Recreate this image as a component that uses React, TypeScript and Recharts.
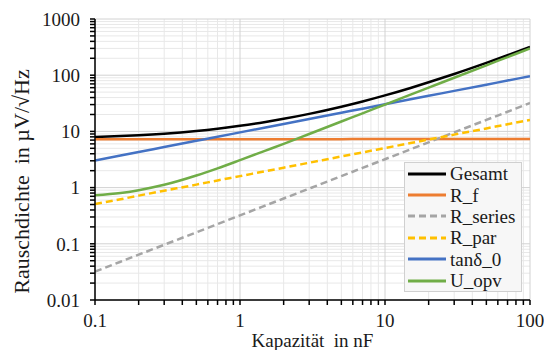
import React from 'react';
import { LineChart, Line, XAxis, YAxis, CartesianGrid, Legend } from 'recharts';

// Capacitance in nF
const capacitance = [0.1, 0.15, 0.2, 0.3, 0.5, 0.7, 1, 1.5, 2, 3, 5, 7, 10, 15, 20, 30, 50, 70, 100];

// Noise density in µV/√Hz
const gesamt = [7.96, 8.26, 8.55, 9.11, 10.17, 11.16, 12.55, 14.71, 16.72, 20.49, 27.48, 34.1, 43.7, 59.3, 74.8, 105.3, 166, 226.5, 317];
const rF = [7.25, 7.25, 7.25, 7.25, 7.25, 7.25, 7.25, 7.27, 7.27, 7.28, 7.28, 7.3, 7.3, 7.3, 7.32, 7.32, 7.33, 7.33, 7.35];
const rSeries = [0.032, 0.048, 0.064, 0.096, 0.16, 0.224, 0.32, 0.48, 0.64, 0.96, 1.6, 2.24, 3.2, 4.8, 6.4, 9.6, 16, 22.4, 32];
const rPar = [0.51, 0.62, 0.72, 0.88, 1.13, 1.34, 1.6, 1.96, 2.26, 2.77, 3.58, 4.23, 5.06, 6.2, 7.16, 8.76, 11.3, 13.4, 16];
const tanDelta = [3.04, 3.72, 4.29, 5.26, 6.79, 8.03, 9.6, 11.76, 13.58, 16.63, 21.47, 25.4, 30.36, 37.18, 42.93, 52.58, 67.88, 80.32, 96];
const uOpv = [0.73, 0.8, 0.9, 1.12, 1.64, 2.2, 3.08, 4.55, 6.0, 9.0, 15.0, 21.0, 30.0, 45.0, 60.0, 90.0, 150, 210, 300];

const seriesNames = ['Gesamt', 'R_f', 'R_series', 'R_par', 'tanδ_0', 'U_opv'];
const seriesValues = [gesamt, rF, rSeries, rPar, tanDelta, uOpv];
const seriesColors = ['#000000', '#ED7D31', '#A5A5A5', '#FFC000', '#4472C4', '#70AD47'];
const seriesDashed = [false, false, true, true, false, false];

const xMajorTicks = [0.1, 1, 10, 100];
const yMajorTicks = [0.01, 0.1, 1, 10, 100, 1000];
const xTickLabels = ['0.1', '1', '10', '100'];
const yTickLabels = ['0.01', '0.1', '1', '10', '100', '1000'];

const xLabel = 'Kapazität\u00A0 in nF';
const yLabel = 'Rauschdichte\u00A0 in µV/√Hz';

const minorFactors = [2, 3, 4, 5, 6, 7, 8, 9];
const makeMinor = (majors: number[]) => {
  const out: number[] = [];
  for (let i = 0; i < majors.length - 1; i++) {
    for (const f of minorFactors) out.push(+(majors[i] * f).toPrecision(6));
  }
  return out;
};
const xMinor = makeMinor(xMajorTicks);
const yMinor = makeMinor(yMajorTicks);
const xAllTicks = [...xMajorTicks, ...xMinor].sort((a, b) => a - b);
const yAllTicks = [...yMajorTicks, ...yMinor].sort((a, b) => a - b);

const data = capacitance.map((c, i) => {
  const row: Record<string, number> = { c };
  seriesNames.forEach((n, j) => {
    row[n] = seriesValues[j][i];
  });
  return row;
});

const FONT = "'Liberation Serif', 'Times New Roman', serif";

const fmt = (majors: number[], labels: string[]) => (v: number) => {
  const idx = majors.findIndex((m) => Math.abs(m - v) / m < 1e-6);
  return idx >= 0 ? labels[idx] : '';
};

const YLabel = (props: any) => {
  const vb = props.viewBox || {};
  const cy = vb.y + vb.height / 2 + 22;
  const cx = 21;
  return (
    <text
      x={cx}
      y={cy}
      transform={`rotate(-90, ${cx}, ${cy})`}
      textAnchor="middle"
      dominantBaseline="central"
      style={{ fontFamily: FONT }}
      fontSize={22}
      fill="#1a1a1a"
    >
      {yLabel}
    </text>
  );
};

const LegendContent = (props: any) => {
  const payload = ((props.payload || []) as any[])
    .slice()
    .sort((a, b) => seriesNames.indexOf(a.value) - seriesNames.indexOf(b.value));
  return (
    <div
      style={{
        border: '1px solid #d0d0d0',
        background: '#f7f7f7',
        width: 118,
        height: 130,
        boxSizing: 'border-box',
        fontFamily: FONT,
        fontSize: 19,
        color: '#1a1a1a',
      }}
    >
      {payload.map((p: any) => {
        const j = seriesNames.indexOf(p.value);
        return (
          <div key={p.value} style={{ height: 21.4, display: 'flex', alignItems: 'center' }}>
            <svg width={41} height={10} style={{ marginLeft: 3, marginRight: 1 }}>
              <line
                x1={0}
                y1={5}
                x2={38}
                y2={5}
                stroke={seriesColors[j]}
                strokeWidth={3}
                strokeDasharray={seriesDashed[j] ? '7 4' : undefined}
              />
            </svg>
            <span style={{ lineHeight: '19px' }}>{p.value}</span>
          </div>
        );
      })}
    </div>
  );
};

const tickStyle = { fill: '#1a1a1a', fontSize: 19, fontFamily: FONT };

export default function App() {
  return (
    <div style={{ position: 'absolute', left: 0, top: 0, width: 544, height: 350, background: '#fff' }}>
      <LineChart width={544} height={350} data={data} margin={{ top: 19, right: 14, bottom: 0, left: 0 }}>
        <CartesianGrid stroke="#e8e8e8" strokeWidth={1} horizontalValues={yMinor} verticalValues={xMinor} />
        <CartesianGrid stroke="#d2d2d2" strokeWidth={1} horizontalValues={yMajorTicks} verticalValues={xMajorTicks} />
        <XAxis
          dataKey="c"
          type="number"
          scale="log"
          domain={[0.1, 100]}
          allowDataOverflow
          ticks={xAllTicks}
          interval={0}
          tickFormatter={fmt(xMajorTicks, xTickLabels)}
          height={50}
          stroke="#000"
          strokeWidth={1.5}
          tickSize={5}
          tickMargin={9}
          tick={tickStyle}
          label={{ value: xLabel, position: 'insideBottom', offset: 3, fill: '#1a1a1a', fontSize: 19, fontFamily: FONT }}
        />
        <YAxis
          type="number"
          scale="log"
          domain={[0.01, 1000]}
          allowDataOverflow
          ticks={yAllTicks}
          interval={0}
          tickFormatter={fmt(yMajorTicks, yTickLabels)}
          width={95}
          stroke="#000"
          strokeWidth={1.5}
          tickSize={5}
          tickMargin={10}
          tick={tickStyle}
          label={<YLabel />}
        />
        <Legend
          layout="vertical"
          verticalAlign="middle"
          align="center"
          content={<LegendContent />}
          wrapperStyle={{ position: 'absolute', left: 404, top: 162, width: 118, height: 130 }}
        />
        {seriesNames.map((n, j) => (
          <Line
            key={n}
            dataKey={n}
            name={n}
            type="monotone"
            stroke={seriesColors[j]}
            strokeWidth={2.5}
            strokeDasharray={seriesDashed[j] ? '7 4' : undefined}
            dot={false}
            activeDot={false}
            isAnimationActive={false}
          />
        ))}
      </LineChart>
    </div>
  );
}
